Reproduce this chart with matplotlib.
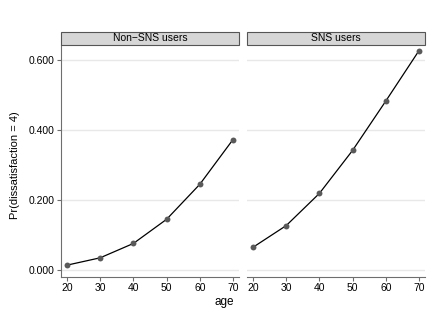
import matplotlib
matplotlib.use("Agg")
import matplotlib.pyplot as plt
from matplotlib.patches import Rectangle

plt.rcParams['font.family'] = ['Liberation Sans', 'DejaVu Sans']

ages = [20, 30, 40, 50, 60, 70]
non_sns = [0.014, 0.035, 0.076, 0.145, 0.245, 0.373]
sns_users = [0.065, 0.127, 0.219, 0.342, 0.483, 0.627]
panel_titles = ["Non\u2212SNS users", "SNS users"]
yticks = [0.0, 0.2, 0.4, 0.6]
ytick_labels = ["0.000", "0.200", "0.400", "0.600"]
xticks = [20, 30, 40, 50, 60, 70]

W, H = 440, 320
fig = plt.figure(figsize=(W / 100, H / 100), dpi=100)
fig.patch.set_facecolor('white')

def px_axes(x0, x1, ytop, ybot):
    return fig.add_axes([x0 / W, (H - ybot) / H, (x1 - x0) / W, (ybot - ytop) / H])

spine_col = '#6e6e6e'
axL = px_axes(61, 239, 45, 276.7)
axR = px_axes(247, 425, 45, 276.7)

for i, (ax, vals) in enumerate([(axL, non_sns), (axR, sns_users)]):
    ax.set_xlim(18.2, 71.8)
    ax.set_ylim(-0.019, 0.643)
    for yt in yticks:
        ax.axhline(yt, color='#e8e8e8', lw=1.0, zorder=0)
    ax.plot(ages, vals, color='black', lw=0.9, zorder=2)
    ax.scatter(ages, vals, s=18, color='#5a5a5a', zorder=3, linewidths=0)
    for s in ['top', 'right']:
        ax.spines[s].set_visible(False)
    ax.spines['bottom'].set_color(spine_col)
    ax.spines['left'].set_color(spine_col)
    ax.set_xticks(xticks)
    ax.set_xticklabels([str(x) for x in xticks], fontsize=7.5)
    ax.tick_params(axis='x', length=3, color=spine_col, pad=1.5)
    if i == 0:
        ax.set_yticks(yticks)
        ax.set_yticklabels(ytick_labels, fontsize=7.5)
        ax.tick_params(axis='y', length=3, color=spine_col, pad=1.5)
    else:
        ax.spines['left'].set_visible(False)
        ax.set_yticks([])
    # strip header
    strip_h = 13.3 / 231.7
    rect = Rectangle((0, 1.0), 1.0, strip_h, transform=ax.transAxes,
                     facecolor='#d6d6d6', edgecolor='#555555', lw=0.8,
                     clip_on=False, zorder=5)
    ax.add_patch(rect)
    ax.text(0.5, 1.0 + strip_h / 2, panel_titles[i], transform=ax.transAxes,
            ha='center', va='center', fontsize=7.5, zorder=6)

fig.text(15 / W, 1 - 165 / H, "Pr(dissatisfaction = 4)", rotation=90,
         ha='center', va='center', fontsize=8)
fig.text(234 / W, 1 - 302 / H, "age", ha='right', va='center', fontsize=8.5)

fig.savefig("out.png", dpi=100)
